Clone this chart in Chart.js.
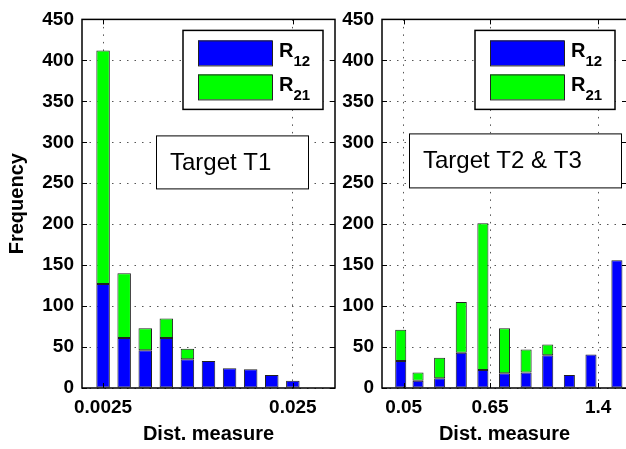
<!DOCTYPE html>
<html>
<head>
<meta charset="utf-8">
<script src="https://cdn.jsdelivr.net/npm/chart.js@4.4.1/dist/chart.umd.min.js"></script>
<style>
  html, body { margin: 0; padding: 0; background: #fff; overflow: hidden; }
  #fig { position: relative; width: 626px; height: 449px; overflow: hidden; }
  #fig canvas { position: absolute; top: 0; }
  #c1 { left: 0; }
  #c2 { left: 338px; }
</style>
</head>
<body>
<div id="fig">
  <canvas id="c1" width="340" height="449"></canvas>
  <canvas id="c2" width="290" height="449"></canvas>
</div>
<script>
// left panel: target T1
const t1Bins = [0.0025, 0.005, 0.0075, 0.01, 0.0125, 0.015, 0.0175, 0.02, 0.0225, 0.025];
const t1R12 = [127, 61, 46, 61, 35, 33, 24, 23, 16, 9];
const t1R21 = [285, 79, 27, 24, 13, 0, 0, 0, 0, 0];
const t1TickValues = [0.0025, 0.025];
const t1TickLabels = ['0.0025', '0.025'];

// right panel: targets T2 & T3
const t23Bins = [0.03, 0.15, 0.3, 0.45, 0.6, 0.75, 0.9, 1.05, 1.2, 1.35, 1.53];
const t23R12 = [33, 9, 12, 43, 22, 18, 19, 40, 16, 41, 156];
const t23R21 = [38, 10, 25, 62, 179, 55, 28, 13, 0, 0, 0];
const t23TickValues = [0.05, 0.65, 1.4];
const t23TickLabels = ['0.05', '0.65', '1.4'];

const seriesNames = ['R12', 'R21'];
const seriesColors = ['#0000ff', '#00ff00'];
const yTicks = { min: 0, max: 450, step: 50 };

const FONT = "'Liberation Sans', Arial, Helvetica, sans-serif";

// frame, inner tick marks, legend and the text box
const decorPlugin = {
  id: 'figDecor',
  afterDraw(chart, args, opts) {
    const { ctx, chartArea: a, scales } = chart;
    const seg = (x1, y1, x2, y2) => { ctx.beginPath(); ctx.moveTo(x1, y1); ctx.lineTo(x2, y2); ctx.stroke(); };
    ctx.save();
    ctx.strokeStyle = '#000';
    ctx.lineWidth = 1;
    const tl = 5;
    scales.y.ticks.forEach(t => {
      const y = Math.round(scales.y.getPixelForValue(t.value)) + 0.5;
      seg(a.left, y, a.left + tl, y);
      seg(a.right - tl, y, a.right, y);
    });
    scales.x.ticks.forEach(t => {
      const x = Math.round(scales.x.getPixelForValue(t.value)) + 0.5;
      seg(x, a.bottom, x, a.bottom - tl);
      seg(x, a.top, x, a.top + tl);
    });
    ctx.lineWidth = 1.5;
    ctx.strokeRect(a.left, a.top, a.right - a.left, a.bottom - a.top);

    // text box
    const n = opts.note;
    const nx = a.left + n.dx, ny = a.top + n.dy;
    ctx.fillStyle = '#fff';
    ctx.fillRect(nx, ny, n.w, n.h);
    ctx.lineWidth = 1;
    ctx.strokeRect(nx + 0.5, ny + 0.5, n.w, n.h);
    ctx.fillStyle = '#000';
    ctx.font = `24px ${FONT}`;
    ctx.textBaseline = 'middle';
    ctx.fillText(n.text, nx + 14, ny + n.h / 2 + 1);

    // legend, anchored top-right
    const lw = 140, lh = 79;
    const lx = a.right - 12 - lw, ly = a.top + 11;
    ctx.fillStyle = '#fff';
    ctx.fillRect(lx, ly, lw, lh);
    ctx.lineWidth = 1.5;
    ctx.strokeRect(lx, ly, lw, lh);
    chart.data.datasets.forEach((ds, i) => {
      const sy = ly + 10 + i * 34;
      ctx.fillStyle = ds.backgroundColor;
      ctx.fillRect(lx + 15, sy, 74, 25);
      ctx.lineWidth = 1;
      ctx.strokeStyle = '#222';
      ctx.strokeRect(lx + 15.5, sy + 0.5, 74, 25);
      ctx.fillStyle = '#000';
      ctx.textBaseline = 'alphabetic';
      ctx.font = `bold 20px ${FONT}`;
      const base = ds.label.charAt(0), sub = ds.label.slice(1);
      ctx.fillText(base, lx + 96, sy + 17);
      const bw = ctx.measureText(base).width;
      ctx.font = `bold 15px ${FONT}`;
      ctx.fillText(sub, lx + 96 + bw, sy + 26);
    });
    ctx.restore();
  }
};

function makeChart(id, bins, r12, r21, tickValues, tickLabels, xMin, xMax, yWidth, showYTitle, note, padRight) {
  const tickFont = { family: FONT, size: 19, weight: 'bold' };
  const titleFont = { family: FONT, size: 20, weight: 'bold' };
  return new Chart(document.getElementById(id), {
    type: 'bar',
    data: {
      datasets: [r12, r21].map((vals, i) => ({
        label: seriesNames[i],
        data: bins.map((b, k) => ({ x: b, y: vals[k] })),
        backgroundColor: seriesColors[i],
        borderColor: '#222',
        borderWidth: 1,
        borderSkipped: false,
        barPercentage: 1,
        categoryPercentage: 0.64,
      })),
    },
    options: {
      responsive: false,
      animation: false,
      layout: { padding: { top: 13, right: padRight, left: 0, bottom: 0 } },
      plugins: {
        legend: { display: false },
        tooltip: { enabled: false },
        figDecor: { note },
      },
      scales: {
        x: {
          type: 'linear',
          stacked: true,
          offset: false,
          min: xMin,
          max: xMax,
          afterBuildTicks: s => { s.ticks = tickValues.map(v => ({ value: v })); },
          afterFit: s => { s.height = 61; },
          ticks: {
            font: tickFont, color: '#000', padding: 8, maxRotation: 0, autoSkip: false,
            callback: v => tickLabels[tickValues.indexOf(v)],
          },
          grid: { color: '#555', lineWidth: 1, drawTicks: false, offset: false },
          border: { display: false, dash: [1.5, 6] },
          title: { display: true, text: 'Dist. measure', font: titleFont, color: '#000', padding: { top: 0, bottom: 3 } },
        },
        y: {
          stacked: true,
          min: yTicks.min,
          max: yTicks.max,
          afterFit: s => { s.width = yWidth; },
          ticks: { stepSize: yTicks.step, font: tickFont, color: '#000', padding: 8 },
          grid: { color: '#555', lineWidth: 1, drawTicks: false },
          border: { display: false, dash: [1.5, 6] },
          title: { display: showYTitle, text: 'Frequency', font: titleFont, color: '#000', padding: { top: 5, bottom: 0 } },
        },
      },
    },
    plugins: [decorPlugin],
  });
}

makeChart('c1', t1Bins, t1R12, t1R21, t1TickValues, t1TickLabels, 0, 0.03, 82, true,
  { text: 'Target T1', dx: 74, dy: 116, w: 152, h: 53 }, 5);
makeChart('c2', t23Bins, t23R12, t23R21, t23TickValues, t23TickLabels, -0.1, 1.6, 44, false,
  { text: 'Target T2 & T3', dx: 27, dy: 114, w: 212, h: 54 }, 1);
</script>
</body>
</html>
